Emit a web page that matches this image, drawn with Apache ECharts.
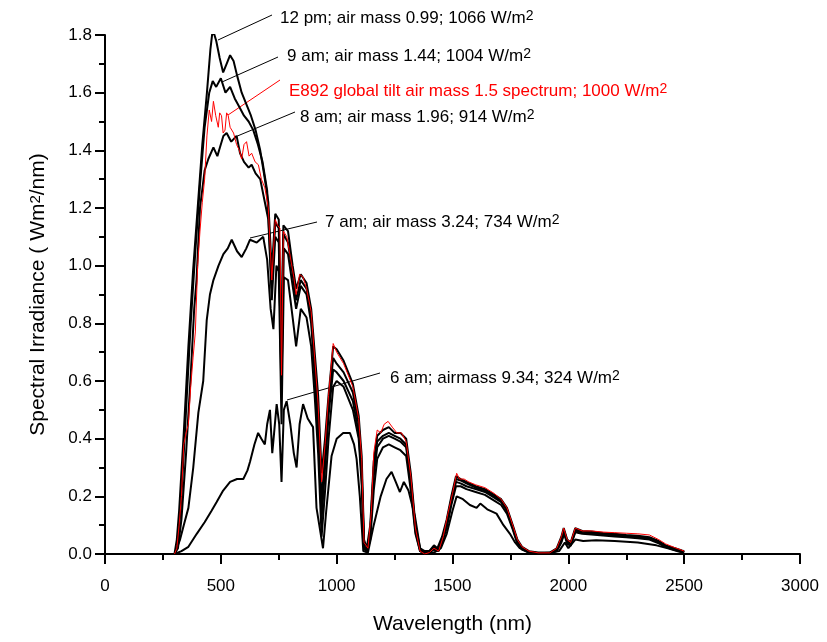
<!DOCTYPE html>
<html>
<head>
<meta charset="utf-8">
<script src="https://cdn.jsdelivr.net/npm/echarts@6/dist/echarts.min.js"></script>
<style>
  html, body { margin: 0; padding: 0; background: #fff; }
  #main { width: 827px; height: 642px; }
</style>
</head>
<body>
<div id="main"></div>
<script>
// wavelength (nm) / spectral irradiance (W/m2/nm)
var pm12 = [[300,0],[310,0.05],[320,0.15],[340,0.42],[360,0.72],[380,0.98],[400,1.2],[420,1.42],[440,1.6],[455,1.75],[465,1.82],[480,1.78],[495,1.72],[510,1.67],[525,1.70],[540,1.73],[555,1.71],[570,1.66],[590,1.60],[610,1.56],[630,1.52],[650,1.47],[670,1.40],[690,1.30],[705,1.22],[720,0.98],[735,1.18],[750,1.16],[760,0.70],[770,1.14],[790,1.12],[810,1.0],[825,0.92],[845,0.97],[870,0.94],[890,0.85],[905,0.70],[920,0.55],[935,0.28],[950,0.40],[965,0.55],[985,0.72],[1000,0.71],[1030,0.67],[1070,0.59],[1095,0.48],[1108,0.34],[1118,0.05],[1130,0.02],[1145,0.10],[1160,0.32],[1175,0.41],[1200,0.43],[1225,0.44],[1250,0.42],[1275,0.42],[1300,0.40],[1320,0.28],[1340,0.10],[1360,0.02],[1380,0.01],[1400,0.01],[1420,0.03],[1435,0.02],[1455,0.06],[1475,0.12],[1495,0.20],[1515,0.27],[1535,0.26],[1560,0.25],[1600,0.235],[1640,0.225],[1680,0.205],[1710,0.19],[1735,0.16],[1760,0.10],[1780,0.05],[1800,0.025],[1830,0.01],[1870,0.005],[1920,0.005],[1950,0.02],[1970,0.06],[1980,0.09],[1995,0.05],[2010,0.04],[2030,0.09],[2060,0.08],[2100,0.078],[2150,0.073],[2200,0.07],[2250,0.066],[2300,0.063],[2350,0.058],[2390,0.045],[2420,0.03],[2460,0.02],[2490,0.012],[2500,0.01]];

var am9 = [[300,0],[315,0.03],[330,0.2],[350,0.5],[370,0.8],[390,1.05],[410,1.28],[430,1.48],[450,1.6],[465,1.64],[480,1.62],[500,1.65],[520,1.60],[540,1.62],[560,1.58],[580,1.55],[600,1.52],[620,1.50],[640,1.47],[660,1.42],[680,1.36],[700,1.26],[720,0.92],[735,1.15],[750,1.13],[760,0.62],[770,1.11],[790,1.08],[810,0.97],[825,0.88],[845,0.95],[870,0.92],[890,0.82],[905,0.66],[920,0.48],[935,0.18],[950,0.35],[965,0.52],[985,0.68],[1000,0.66],[1030,0.63],[1070,0.56],[1095,0.45],[1108,0.30],[1118,0.03],[1130,0.01],[1145,0.08],[1160,0.30],[1175,0.39],[1200,0.41],[1225,0.42],[1250,0.41],[1275,0.40],[1300,0.38],[1320,0.26],[1340,0.09],[1360,0.015],[1380,0.005],[1400,0.01],[1420,0.025],[1440,0.015],[1455,0.05],[1475,0.11],[1495,0.19],[1515,0.26],[1535,0.255],[1560,0.245],[1600,0.23],[1640,0.22],[1680,0.20],[1710,0.185],[1735,0.155],[1760,0.095],[1780,0.045],[1800,0.02],[1830,0.008],[1870,0.003],[1920,0.004],[1950,0.015],[1970,0.05],[1982,0.08],[1995,0.045],[2010,0.035],[2030,0.085],[2060,0.077],[2100,0.075],[2150,0.07],[2200,0.067],[2250,0.063],[2300,0.06],[2350,0.055],[2390,0.043],[2420,0.028],[2460,0.018],[2490,0.01],[2500,0.008]];

var e892 = [[300,0],[310,0.02],[320,0.1],[330,0.2],[340,0.38],[350,0.42],[360,0.45],[370,0.58],[380,0.68],[390,0.77],[400,1.0],[410,1.12],[420,1.22],[430,1.30],[440,1.45],[450,1.54],[460,1.50],[468,1.57],[478,1.52],[489,1.48],[495,1.53],[503,1.52],[510,1.46],[518,1.47],[525,1.53],[532,1.52],[540,1.48],[555,1.46],[568,1.42],[580,1.40],[590,1.37],[600,1.42],[611,1.43],[622,1.38],[633,1.39],[648,1.36],[662,1.35],[675,1.30],[690,1.27],[705,1.20],[720,0.95],[735,1.16],[745,1.14],[755,1.13],[762,0.62],[770,1.12],[785,1.10],[800,1.03],[815,0.96],[825,0.90],[840,0.97],[855,0.96],[870,0.92],[890,0.84],[905,0.68],[920,0.52],[935,0.25],[950,0.38],[965,0.55],[985,0.73],[1000,0.70],[1030,0.66],[1070,0.58],[1095,0.47],[1108,0.33],[1118,0.04],[1135,0.02],[1150,0.15],[1160,0.35],[1175,0.43],[1190,0.42],[1205,0.45],[1222,0.46],[1240,0.44],[1260,0.42],[1280,0.42],[1300,0.39],[1320,0.27],[1340,0.09],[1360,0.01],[1380,0.0],[1400,0.005],[1420,0.02],[1440,0.01],[1460,0.06],[1480,0.14],[1500,0.21],[1518,0.28],[1530,0.26],[1550,0.26],[1570,0.25],[1600,0.24],[1640,0.23],[1680,0.21],[1710,0.19],[1735,0.16],[1760,0.10],[1780,0.05],[1800,0.025],[1830,0.01],[1870,0.004],[1920,0.004],[1950,0.02],[1970,0.06],[1980,0.09],[1995,0.05],[2010,0.04],[2030,0.09],[2060,0.08],[2100,0.08],[2150,0.076],[2200,0.074],[2250,0.072],[2300,0.07],[2350,0.066],[2390,0.05],[2420,0.035],[2460,0.022],[2490,0.013],[2500,0.01]];

var am8 = [[300,0],[315,0.02],[330,0.12],[350,0.35],[370,0.62],[385,0.85],[395,0.95],[410,1.2],[430,1.33],[446,1.37],[468,1.41],[485,1.38],[496,1.41],[511,1.45],[525,1.46],[545,1.43],[568,1.45],[583,1.39],[600,1.36],[620,1.34],[633,1.35],[650,1.32],[670,1.30],[690,1.22],[705,1.16],[720,0.88],[735,1.10],[750,1.08],[762,0.58],[772,1.06],[790,1.04],[810,0.93],[825,0.85],[845,0.93],[870,0.9],[890,0.8],[905,0.62],[920,0.42],[935,0.12],[950,0.3],[965,0.48],[985,0.64],[1000,0.63],[1030,0.60],[1070,0.53],[1095,0.42],[1108,0.27],[1118,0.02],[1130,0.01],[1145,0.07],[1160,0.27],[1175,0.37],[1200,0.40],[1225,0.41],[1250,0.40],[1275,0.39],[1300,0.37],[1320,0.24],[1340,0.08],[1360,0.01],[1380,0.003],[1400,0.008],[1420,0.02],[1440,0.012],[1455,0.045],[1475,0.10],[1495,0.18],[1515,0.25],[1535,0.245],[1560,0.235],[1600,0.225],[1640,0.215],[1680,0.195],[1710,0.18],[1735,0.15],[1760,0.09],[1780,0.04],[1800,0.018],[1830,0.007],[1870,0.003],[1920,0.003],[1950,0.012],[1970,0.045],[1982,0.075],[1995,0.04],[2010,0.03],[2030,0.08],[2060,0.073],[2100,0.072],[2150,0.068],[2200,0.065],[2250,0.061],[2300,0.058],[2350,0.053],[2390,0.04],[2420,0.026],[2460,0.016],[2490,0.009],[2500,0.007]];

var am7 = [[300,0],[324,0.05],[340,0.10],[360,0.16],[381,0.30],[403,0.49],[424,0.60],[439,0.81],[453,0.90],[468,0.95],[490,1.0],[511,1.04],[530,1.06],[547,1.09],[570,1.05],[590,1.03],[610,1.06],[626,1.09],[655,1.08],[683,1.10],[700,1.02],[715,0.85],[727,0.78],[740,1.0],[750,0.98],[762,0.45],[772,0.96],[790,0.95],[810,0.82],[825,0.72],[845,0.85],[870,0.82],[890,0.72],[905,0.55],[920,0.35],[935,0.06],[950,0.22],[965,0.40],[985,0.58],[1000,0.60],[1030,0.58],[1070,0.50],[1095,0.40],[1108,0.24],[1118,0.02],[1130,0.005],[1145,0.05],[1160,0.22],[1175,0.33],[1200,0.37],[1225,0.38],[1250,0.37],[1275,0.36],[1300,0.34],[1320,0.22],[1340,0.07],[1360,0.01],[1380,0.002],[1400,0.006],[1420,0.015],[1440,0.01],[1455,0.04],[1475,0.09],[1495,0.17],[1515,0.235],[1535,0.235],[1560,0.225],[1600,0.215],[1640,0.205],[1680,0.185],[1710,0.17],[1735,0.14],[1760,0.085],[1780,0.035],[1800,0.015],[1830,0.006],[1870,0.002],[1920,0.002],[1950,0.01],[1970,0.04],[1982,0.07],[1995,0.035],[2010,0.028],[2030,0.075],[2060,0.07],[2100,0.068],[2150,0.064],[2200,0.061],[2250,0.058],[2300,0.055],[2350,0.05],[2390,0.037],[2420,0.024],[2460,0.014],[2490,0.008],[2500,0.006]];

var am6 = [[300,0],[330,0.01],[360,0.025],[396,0.07],[430,0.11],[460,0.15],[482,0.18],[510,0.22],[540,0.25],[570,0.26],[597,0.26],[615,0.29],[626,0.32],[645,0.38],[661,0.42],[675,0.40],[690,0.38],[700,0.45],[712,0.50],[722,0.35],[730,0.42],[741,0.52],[752,0.45],[762,0.25],[772,0.50],[784,0.53],[800,0.45],[815,0.35],[827,0.30],[840,0.45],[855,0.52],[875,0.47],[898,0.44],[913,0.16],[925,0.1],[941,0.02],[955,0.15],[978,0.34],[1000,0.40],[1028,0.42],[1057,0.42],[1075,0.38],[1086,0.33],[1100,0.2],[1115,0.01],[1135,0.005],[1160,0.1],[1190,0.2],[1215,0.26],[1237,0.285],[1255,0.25],[1273,0.215],[1290,0.25],[1310,0.22],[1338,0.13],[1360,0.02],[1380,0.001],[1420,0.005],[1450,0.02],[1475,0.07],[1500,0.15],[1518,0.20],[1545,0.19],[1575,0.17],[1604,0.16],[1620,0.175],[1650,0.155],[1690,0.14],[1720,0.10],[1748,0.07],[1770,0.04],[1791,0.02],[1830,0.004],[1900,0.001],[1960,0.01],[1985,0.04],[2000,0.02],[2030,0.05],[2064,0.045],[2120,0.048],[2200,0.045],[2300,0.04],[2380,0.03],[2430,0.02],[2480,0.008],[2500,0.005]];

var chart = echarts.init(document.getElementById('main'));
var font = 'Liberation Sans, Arial, sans-serif';

function spec(name, data, color, width) {
	return {
		name: name,
		type: 'line',
		data: data,
		showSymbol: false,
		lineStyle: { color: color, width: width },
		itemStyle: { color: color },
		animation: false
	};
}

// label text + leader line (pixel positions)
function note(text, color, x, y, x1, y1, x2, y2) {
	return [
		{ type: 'line', shape: { x1: x1, y1: y1, x2: x2, y2: y2 }, style: { stroke: color, lineWidth: 1 } },
		{
			type: 'text', x: x, y: y,
			style: {
				text: text, fill: color, font: '17px ' + font, verticalAlign: 'middle',
				rich: { sup: { fontSize: 14, fill: color, verticalAlign: 'top', lineHeight: 14, padding: [0, 0, 16, 0] } }
			}
		}
	];
}

var option = {
	backgroundColor: '#fff',
	animation: false,
	grid: { left: 105, right: 27, top: 35, bottom: 88 },
	xAxis: {
		type: 'value', min: 0, max: 3000, interval: 500,
		name: 'Wavelength (nm)', nameLocation: 'middle', nameGap: 60,
		nameTextStyle: { fontFamily: font, fontSize: 21, color: '#000' },
		axisLine: { lineStyle: { color: '#000', width: 2 } },
		axisTick: { length: 10, lineStyle: { width: 2 } },
		minorTick: { show: true, splitNumber: 2, length: 6, lineStyle: { color: '#000', width: 2 } },
		axisLabel: { fontFamily: font, fontSize: 17, color: '#000', margin: 24, formatter: function (v) { return String(v); } },
		splitLine: { show: false }
	},
	yAxis: {
		type: 'value', min: 0, max: 1.8, interval: 0.2,
		name: 'Spectral Irradiance ( Wm{sup|2}/nm)', nameLocation: 'middle', nameGap: 56,
		nameTextStyle: {
			fontFamily: font, fontSize: 21, color: '#000',
			rich: { sup: { fontFamily: font, fontSize: 15, color: '#000', verticalAlign: 'top', lineHeight: 15, padding: [0, 0, 14, 0] } }
		},
		axisLine: { lineStyle: { color: '#000', width: 2 } },
		axisTick: { length: 10, lineStyle: { width: 2 } },
		minorTick: { show: true, splitNumber: 2, length: 6, lineStyle: { color: '#000', width: 2 } },
		axisLabel: { fontFamily: font, fontSize: 17, color: '#000', margin: 13, formatter: function (v) { return v.toFixed(1); } },
		splitLine: { show: false }
	},
	series: [
		spec('6 am', am6, '#000', 2),
		spec('7 am', am7, '#000', 2),
		spec('8 am', am8, '#000', 2),
		spec('9 am', am9, '#000', 2),
		spec('12 pm', pm12, '#000', 2),
		spec('E892', e892, '#ff0000', 1)
	],
	graphic: [].concat(
		note('12 pm; air mass 0.99; 1066 W/m{sup|2}', '#000', 280, 18, 218, 40, 272, 15),
		note('9 am; air mass 1.44; 1004 W/m{sup|2}', '#000', 287, 56, 222, 82, 278, 57),
		note('E892 global tilt air mass 1.5 spectrum; 1000 W/m{sup|2}', '#ff0000', 289, 91, 228, 115, 280, 80),
		note('8 am; air mass 1.96; 914 W/m{sup|2}', '#000', 300, 117, 235, 137, 295, 112),
		note('7 am; air mass 3.24; 734 W/m{sup|2}', '#000', 325, 222, 250, 238, 317, 222),
		note('6 am; airmass 9.34; 324 W/m{sup|2}', '#000', 390, 378, 287, 400, 380, 373)
	)
};

chart.setOption(option);
</script>
</body>
</html>
